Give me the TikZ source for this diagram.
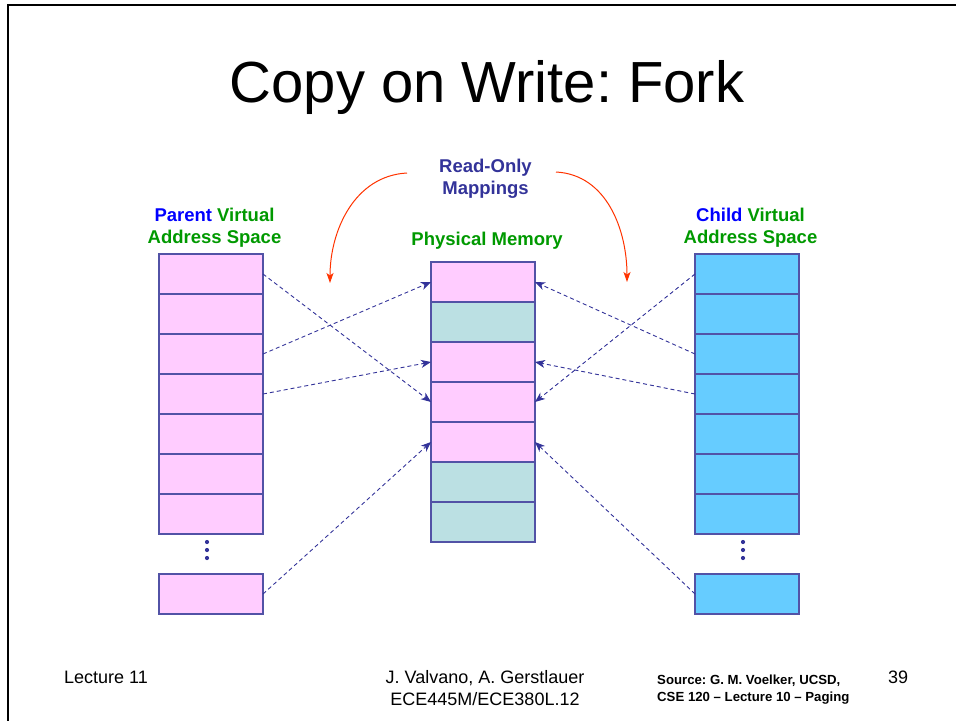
\documentclass[tikz,border=0pt]{standalone}
\usepackage{fontspec}
\setmainfont{Liberation Sans}
\usetikzlibrary{arrows.meta}
\frenchspacing
\definecolor{navy}{HTML}{333399}
\definecolor{cellline}{HTML}{5252A6}
\definecolor{pblue}{HTML}{0000FF}
\definecolor{pgreen}{HTML}{009900}
\definecolor{rored}{HTML}{FF3300}
\definecolor{ppink}{HTML}{FFCCFF}
\definecolor{pteal}{HTML}{BBE0E3}
\definecolor{cblue}{HTML}{66CCFF}
\tikzset{
  cell/.style={draw=cellline, line width=1.2pt, minimum width=104pt, minimum height=40pt,
    inner sep=0pt, outer sep=0pt, anchor=north west},
  map/.style={navy, dash pattern=on 4pt off 3pt, line width=0.9pt,
    -{Stealth[length=10pt, width=8pt, inset=3pt]}},
  romap/.style={rored, line width=1pt, -{Stealth[length=10pt, width=7pt, inset=2.5pt]}},
  head/.style={font=\fontsize{18.5}{21.5}\selectfont\bfseries, align=center, anchor=base, inner sep=0pt},
  foot/.style={font=\fontsize{18}{22}\selectfont, anchor=base, inner sep=0pt},
}
\begin{document}
\begin{tikzpicture}[x=1pt, y=-1pt]
\useasboundingbox (0,0) rectangle (956,721);
\draw [line width=2pt] (956,5) -- (8,5) -- (8,721);
\node (T) [anchor=base, inner sep=0pt, font=\fontsize{58}{60}\selectfont] at (487,102) {Copy on Write: Fork};
\node (RO) [head, navy] at (485.5,194) {Read-Only\\Mappings};
\node (PH) [head, pgreen] at (214.5,243) {{\color{pblue}Parent} Virtual\\Address Space};
\node (MH) [head, pgreen] at (487,245) {Physical Memory};
\node (CH) [head, pgreen] at (750.5,243) {{\color{pblue}Child} Virtual\\Address Space};
\foreach \i in {1,...,7} {
  \node (p\i) [cell, fill=ppink] at (159,{254+40*(\i-1)}) {};
  \node (c\i) [cell, fill=cblue] at (695,{254+40*(\i-1)}) {};
}
\node (pl) [cell, fill=ppink] at (159,574) {};
\node (cl) [cell, fill=cblue] at (695,574) {};
\foreach \i/\c in {1/ppink,2/pteal,3/ppink,4/ppink,5/ppink,6/pteal,7/pteal}
  \node (m\i) [cell, fill=\c] at (431,{262+40*(\i-1)}) {};
\foreach \y in {542,550,558} {
  \fill [navy] (207,\y) circle (2.1pt);
  \fill [navy] (743,\y) circle (2.1pt);
}
\draw [map] (p1.east) -- (m4.west);
\draw [map] (p3.east) -- (m1.west);
\draw [map] (p4.east) -- (m3.west);
\draw [map] (pl.east) -- (m5.west);
\draw [map] (c1.west) -- (m4.east);
\draw [map] (c3.west) -- (m1.east);
\draw [map] (c4.west) -- (m3.east);
\draw [map] (cl.west) -- (m5.east);
\coordinate (rl) at (407,173);
\coordinate (rle) at (330,283);
\coordinate (rr) at (556,172);
\coordinate (rre) at (627,282);
\draw [romap] (rl) to[out=183, in=90] (rle);
\draw [romap] (rr) to[out=-3, in=90] (rre);
\node (L) [foot, anchor=base west] at (64,683) {Lecture 11};
\node (A) [foot, align=center] at (485,705) {J. Valvano, A. Gerstlauer\\ECE445M/ECE380L.12};
\node (S) [anchor=base west, inner sep=0pt, align=left, font=\fontsize{13.2}{17}\selectfont\bfseries] at (657,701) {Source: G. M. Voelker, UCSD,\\CSE 120 -- Lecture 10 -- Paging};
\node (P) [foot, anchor=base west] at (888,683) {39};
\end{tikzpicture}
\end{document}
